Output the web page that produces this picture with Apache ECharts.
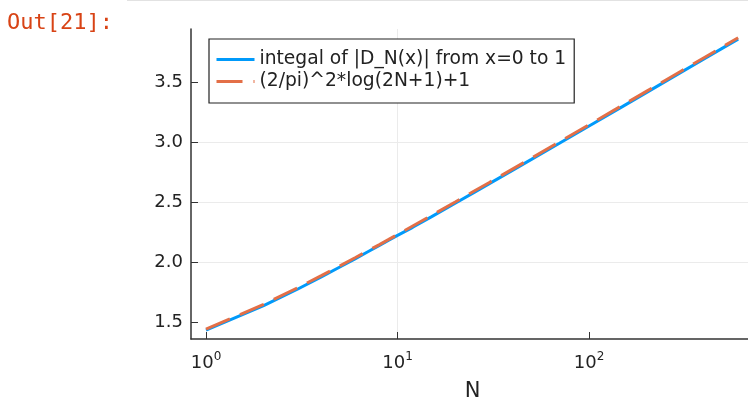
<!DOCTYPE html>
<html><head><meta charset="utf-8">
<script src="https://cdn.jsdelivr.net/npm/echarts@6/dist/echarts.min.js"></script>
<style>html,body{margin:0;padding:0;background:#fff}#c{width:748px;height:401px}</style>
</head><body><div id="c"></div>
<script>
const promptText = 'Out[21]:';
const xName = 'N';
const xTickValues = [1, 10, 100];
const yTickValues = [1.5, 2.0, 2.5, 3.0, 3.5];
const seriesNames = ['integal of |D_N(x)| from x=0 to 1', '(2/pi)^2*log(2N+1)+1'];
const nValues = [1,2,3,4,5,6,7,8,9,10,12,15,20,25,30,40,50,70,100,150,200,300,400,500,600];
const integralValues = [1.436,1.642,1.778,1.881,1.963,2.031,2.090,2.141,2.187,2.227,2.294,2.381,2.495,2.583,2.656,2.771,2.860,2.995,3.139,3.302,3.419,3.583,3.699,3.790,3.863];
const approxValues = [1.445,1.652,1.789,1.891,1.972,2.040,2.098,2.148,2.193,2.234,2.305,2.392,2.505,2.594,2.666,2.781,2.870,3.006,3.149,3.313,3.429,3.593,3.710,3.800,3.874];

const FONT = 'DejaVu Sans';
const chart = echarts.init(document.getElementById('c'), null, {renderer: 'canvas'});
const pairs = vals => nValues.map((n, i) => [n, vals[i]]);

chart.setOption({
  animation: false,
  backgroundColor: '#fff',
  textStyle: {fontFamily: FONT},
  graphic: [
    {type: 'rect', shape: {x: 127, y: 0, width: 621, height: 1}, style: {fill: '#e2e2e2'}},
    {type: 'text', left: 7, top: 12, style: {text: promptText, fill: '#D84315', font: '22px "DejaVu Sans Mono"'}}
  ],
  grid: {left: 191, top: 29, width: 563, height: 310, containLabel: false, outerBoundsMode: 'none'},
  legend: {
    left: 209, top: 39, orient: 'vertical',
    padding: [11, 8, 12, 6], itemGap: 3, itemWidth: 38, itemHeight: 18,
    backgroundColor: '#fff', borderColor: '#222', borderWidth: 1.2, borderRadius: 0,
    itemStyle: {opacity: 0},
    lineStyle: {width: 3},
    textStyle: {fontFamily: FONT, fontSize: 18.7, color: '#222', lineHeight: 18},
    data: seriesNames
  },
  xAxis: {
    type: 'log', logBase: 10, min: 0.835, max: 726,
    name: xName, nameLocation: 'middle', nameGap: 42,
    nameTextStyle: {fontFamily: FONT, fontSize: 21, color: '#222'},
    axisLine: {onZero: false, lineStyle: {color: '#333', width: 1.5}},
    axisTick: {inside: true, length: 7, customValues: xTickValues, lineStyle: {color: '#333', width: 1}},
    axisLabel: {
      customValues: xTickValues, margin: 12,
      formatter: v => '{b|10}{s|' + Math.round(Math.log10(v)) + '}',
      rich: {
        b: {fontFamily: FONT, fontSize: 18, color: '#222', lineHeight: 24},
        s: {fontFamily: FONT, fontSize: 12, color: '#222', lineHeight: 12, verticalAlign: 'top'}
      }
    },
    splitLine: {show: true, showMinLine: false, showMaxLine: false, lineStyle: {color: '#ebebeb', width: 1}}
  },
  yAxis: {
    type: 'value', min: 1.363, max: 3.947, minInterval: 0.5, maxInterval: 0.5,
    axisLine: {show: true, onZero: false, lineStyle: {color: '#333', width: 1.5}},
    axisTick: {show: true, inside: true, length: 7, customValues: yTickValues, lineStyle: {color: '#333', width: 1}},
    axisLabel: {customValues: yTickValues, margin: 8, fontFamily: FONT, fontSize: 18, color: '#222', formatter: v => v.toFixed(1)},
    splitLine: {show: true, showMinLine: false, showMaxLine: false, lineStyle: {color: '#ebebeb', width: 1}}
  },
  series: [
    {name: seriesNames[0], type: 'line', data: pairs(integralValues), symbol: 'none', showSymbol: false,
     lineStyle: {color: '#009AFA', width: 3}, itemStyle: {color: '#009AFA'}},
    {name: seriesNames[1], type: 'line', data: pairs(approxValues), symbol: 'none', showSymbol: false,
     lineStyle: {color: '#E36F47', width: 3, type: [26, 11]}, itemStyle: {color: '#E36F47'}}
  ]
});
</script></body></html>
